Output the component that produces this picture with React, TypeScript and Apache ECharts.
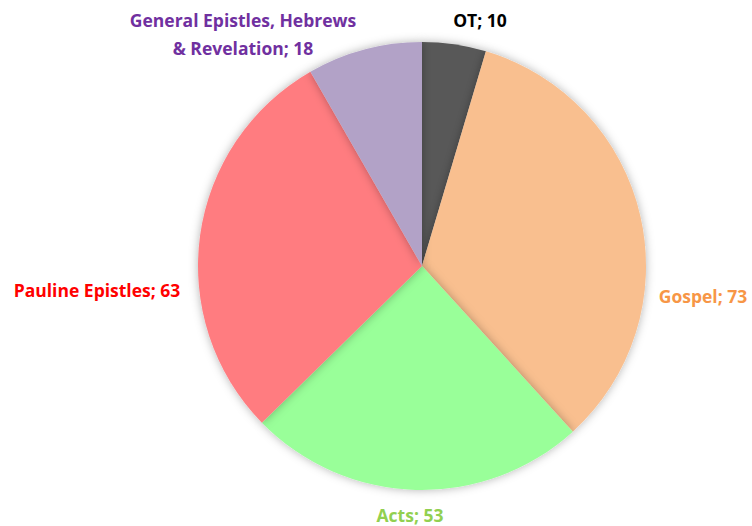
import React, { useEffect, useRef } from "react";
import * as echarts from "echarts";

const categories = ["OT", "Gospel", "Acts", "Pauline Epistles", "General Epistles, Hebrews\n& Revelation"];
const values = [10, 73, 53, 63, 18];
const sliceColors = ["#595959", "#F9BF8F", "#99FF99", "#FF7C80", "#B2A2C7"];
const labelColors = ["#000000", "#F79646", "#92D050", "#FF0000", "#7030A0"];
const labelPos: [number, number][] = [
  [480, 20],
  [703, 296],
  [410, 515],
  [97, 290],
  [243, 34],
];

export default function App() {
  const ref = useRef<HTMLDivElement>(null);
  useEffect(() => {
    if (!ref.current) return;
    const chart = echarts.init(ref.current, undefined, { renderer: "svg" });
    chart.setOption({
      animation: false,
      backgroundColor: "#ffffff",
      series: [
        {
          type: "pie",
          center: [422, 266],
          radius: 224,
          startAngle: 90,
          clockwise: true,
          data: categories.map((c, i) => ({
            name: c,
            value: values[i],
            itemStyle: { color: sliceColors[i] },
            label: { color: labelColors[i] },
          })),
          itemStyle: {
            shadowBlur: 10,
            shadowColor: "rgba(0,0,0,0.3)",
          },
          label: {
            show: true,
            position: "outside",
            formatter: "{b}; {c}",
            fontFamily: "Open Sans",
            fontWeight: "bold",
            fontSize: 17.5,
            lineHeight: 28,
            align: "center",
            overflow: "none",
          },
          labelLine: { show: false },
          labelLayout: (p: any) => ({
            x: labelPos[p.dataIndex][0],
            y: labelPos[p.dataIndex][1],
            align: "center",
            verticalAlign: "middle",
          }),
        },
      ],
    });
    return () => chart.dispose();
  }, []);
  return <div ref={ref} style={{ width: 752, height: 526, position: "absolute", left: 0, top: 0 }} />;
}
